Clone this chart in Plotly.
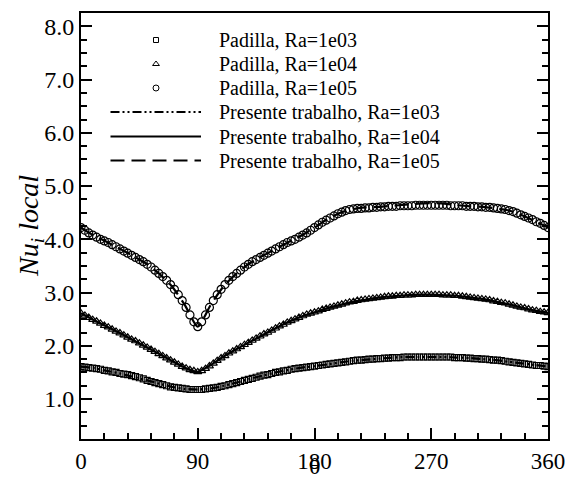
import plotly.graph_objects as go

# ---------------- data ----------------
theta_pts = list(range(0, 361, 3))      # Padilla samples, every 3 degrees
theta_line = list(range(0, 361, 10))    # present work curves, every 10 degrees

padilla_1e03 = [
    1.61, 1.60, 1.59, 1.58, 1.57, 1.56, 1.54, 1.53, 1.51, 1.50, 1.48, 1.47, 1.46, 1.44, 1.42, 1.40,
    1.38, 1.35, 1.33, 1.31, 1.29, 1.27, 1.25, 1.23, 1.22, 1.21, 1.20, 1.19, 1.18, 1.18, 1.18,
    1.18, 1.19, 1.20, 1.21, 1.22, 1.24, 1.25, 1.27, 1.29, 1.31, 1.33, 1.35, 1.37, 1.39, 1.41,
    1.43, 1.45, 1.46, 1.48, 1.50, 1.51, 1.53, 1.54, 1.56, 1.57, 1.58, 1.59, 1.60, 1.61, 1.62,
    1.63, 1.64, 1.65, 1.66, 1.67, 1.68, 1.69, 1.70, 1.71, 1.72, 1.73, 1.73, 1.74, 1.75, 1.75,
    1.76, 1.76, 1.77, 1.77, 1.78, 1.78, 1.78, 1.79, 1.79, 1.79, 1.79, 1.79, 1.79, 1.79, 1.79,
    1.79, 1.79, 1.79, 1.79, 1.79, 1.78, 1.78, 1.78, 1.77, 1.77, 1.76, 1.76, 1.75, 1.75, 1.74,
    1.73, 1.73, 1.72, 1.71, 1.70, 1.69, 1.68, 1.67, 1.66, 1.65, 1.64, 1.63, 1.63, 1.62, 1.61,
]
padilla_1e04 = [
    2.61, 2.57, 2.53, 2.49, 2.46, 2.42, 2.38, 2.35, 2.31, 2.27, 2.24, 2.20, 2.16, 2.12, 2.09, 2.05,
    2.01, 1.97, 1.93, 1.89, 1.85, 1.81, 1.77, 1.73, 1.69, 1.65, 1.61, 1.58, 1.55, 1.53, 1.51,
    1.53, 1.57, 1.62, 1.67, 1.72, 1.77, 1.81, 1.86, 1.90, 1.94, 1.98, 2.02, 2.06, 2.10, 2.14,
    2.18, 2.22, 2.25, 2.29, 2.33, 2.37, 2.40, 2.44, 2.47, 2.50, 2.53, 2.56, 2.59, 2.61, 2.63,
    2.65, 2.68, 2.70, 2.72, 2.74, 2.76, 2.78, 2.80, 2.82, 2.83, 2.85, 2.86, 2.87, 2.88, 2.89,
    2.90, 2.91, 2.92, 2.93, 2.93, 2.94, 2.94, 2.95, 2.95, 2.95, 2.96, 2.96, 2.96, 2.96, 2.96,
    2.96, 2.96, 2.95, 2.95, 2.95, 2.94, 2.94, 2.93, 2.92, 2.91, 2.90, 2.89, 2.88, 2.87, 2.86,
    2.84, 2.83, 2.81, 2.80, 2.78, 2.76, 2.74, 2.72, 2.71, 2.69, 2.67, 2.66, 2.64, 2.63, 2.62,
]
padilla_1e05 = [
    4.22, 4.17, 4.12, 4.08, 4.04, 4.00, 3.97, 3.94, 3.90, 3.86, 3.82, 3.78, 3.74, 3.70, 3.66, 3.62,
    3.58, 3.53, 3.48, 3.42, 3.36, 3.30, 3.23, 3.15, 3.06, 2.96, 2.85, 2.72, 2.58, 2.45, 2.36,
    2.45, 2.58, 2.72, 2.85, 2.96, 3.06, 3.15, 3.23, 3.30, 3.36, 3.42, 3.48, 3.53, 3.58, 3.62,
    3.66, 3.70, 3.74, 3.78, 3.82, 3.86, 3.90, 3.94, 3.97, 4.00, 4.04, 4.08, 4.12, 4.17, 4.22,
    4.27, 4.32, 4.36, 4.40, 4.44, 4.48, 4.51, 4.54, 4.56, 4.57, 4.58, 4.58, 4.59, 4.59, 4.60,
    4.60, 4.61, 4.61, 4.62, 4.62, 4.62, 4.63, 4.63, 4.63, 4.63, 4.64, 4.64, 4.64, 4.64, 4.64,
    4.64, 4.64, 4.64, 4.64, 4.63, 4.63, 4.63, 4.63, 4.62, 4.62, 4.62, 4.61, 4.61, 4.60, 4.60,
    4.59, 4.58, 4.57, 4.56, 4.54, 4.52, 4.49, 4.46, 4.43, 4.40, 4.37, 4.33, 4.30, 4.26, 4.22,
]
present_1e03 = [1.61, 1.58, 1.53, 1.48, 1.42, 1.36, 1.29, 1.23, 1.19, 1.18, 1.20, 1.25, 1.31,
                1.38, 1.44, 1.50, 1.55, 1.59, 1.62, 1.65, 1.69, 1.72, 1.74, 1.76, 1.78, 1.79,
                1.79, 1.79, 1.79, 1.78, 1.77, 1.75, 1.73, 1.70, 1.67, 1.64, 1.61]
present_1e04 = [2.61, 2.48, 2.36, 2.24, 2.11, 1.98, 1.85, 1.72, 1.59, 1.51, 1.64, 1.80, 1.94,
                2.07, 2.20, 2.33, 2.45, 2.55, 2.63, 2.71, 2.77, 2.83, 2.87, 2.91, 2.93, 2.95,
                2.96, 2.96, 2.95, 2.94, 2.91, 2.88, 2.83, 2.78, 2.72, 2.66, 2.62]
present_1e05 = [4.22, 4.07, 3.95, 3.82, 3.69, 3.55, 3.36, 3.12, 2.77, 2.36, 2.77, 3.12, 3.36,
                3.55, 3.69, 3.82, 3.95, 4.07, 4.22, 4.38, 4.50, 4.57, 4.60, 4.61, 4.63, 4.65,
                4.67, 4.68, 4.67, 4.64, 4.62, 4.61, 4.58, 4.54, 4.45, 4.34, 4.22]

x_ticks = [0, 90, 180, 270, 360]
y_ticks = [1, 2, 3, 4, 5, 6, 7, 8]
y_tick_text = ["1.0", "2.0", "3.0", "4.0", "5.0", "6.0", "7.0", "8.0"]

legend_labels = ["Padilla, Ra=1e03", "Padilla, Ra=1e04", "Padilla, Ra=1e05",
                 "Presente trabalho, Ra=1e03", "Presente trabalho, Ra=1e04",
                 "Presente trabalho, Ra=1e05"]

# ---------------- styles ----------------
FONT = "Liberation Serif"
DASHDOTDOT = "9px,3px,2px,3px,2px,3px"
LONGDASH = "14px,7px"
line_styles = [DASHDOTDOT, "solid", LONGDASH]
marker_styles = [("square-open", 6), ("triangle-up-open", 7), ("circle-open", 8)]

fig = go.Figure()

for vals, dash in zip([present_1e03, present_1e04, present_1e05], line_styles):
    fig.add_trace(go.Scatter(x=theta_line, y=vals, mode="lines",
                             line=dict(color="black", width=2.2, dash=dash,
                                       shape="spline", smoothing=0.6),
                             showlegend=False, hoverinfo="skip"))

for vals, (sym, sz) in zip([padilla_1e03, padilla_1e04, padilla_1e05], marker_styles):
    fig.add_trace(go.Scatter(x=theta_pts, y=vals, mode="markers",
                             marker=dict(symbol=sym, size=sz, color="black",
                                         line=dict(width=1.2, color="black")),
                             showlegend=False, hoverinfo="skip"))

W, H = 568, 480
ML, MR, MT, MB = 81, 20, 13, 41
PW, PH = W - ML - MR, H - MT - MB

# ---------------- hand-drawn legend on a pixel-like overlay axis ----------------
LEG_ROWS = [40, 64, 88, 112, 136.5, 160.5]
LEG_SYM_X = 156
LEG_LINE_X = (110.5, 201)
LEG_TEXT_X = 217
legend_marker_sizes = [5, 6, 6]

for i, (sym, _) in enumerate(marker_styles):
    fig.add_trace(go.Scatter(x=[LEG_SYM_X], y=[LEG_ROWS[i]], xaxis="x2", yaxis="y2",
                             mode="markers",
                             marker=dict(symbol=sym, size=legend_marker_sizes[i], color="black",
                                         line=dict(width=1, color="black")),
                             showlegend=False, hoverinfo="skip"))
for i, dash in enumerate(line_styles):
    r = LEG_ROWS[3 + i]
    fig.add_trace(go.Scatter(x=list(LEG_LINE_X), y=[r, r], xaxis="x2", yaxis="y2",
                             mode="lines", line=dict(color="black", width=2.2, dash=dash),
                             showlegend=False, hoverinfo="skip"))
for i, lab in enumerate(legend_labels):
    fig.add_annotation(x=LEG_TEXT_X, y=LEG_ROWS[i], xref="x2", yref="y2", text=lab,
                       showarrow=False, xanchor="left", yanchor="middle",
                       font=dict(family=FONT, size=20, color="black"))

# axis titles as paper annotations (fixed positions, no automargin)
YT_X_PX = 30
fig.add_annotation(x=(YT_X_PX - ML) / PW, y=0.5, xref="paper", yref="paper",
                   text="<i>Nu<sub>i</sub> local</i>", textangle=-90, showarrow=False,
                   xanchor="center", yanchor="middle",
                   font=dict(family=FONT, size=28, color="black"))
XT_Y_PX = 466
fig.add_annotation(x=0.5, y=-(XT_Y_PX - (H - MB)) / PH, xref="paper", yref="paper",
                   text="θ", showarrow=False, xanchor="center", yanchor="middle",
                   borderpad=0,
                   font=dict(family=FONT, size=24, color="black"))

fig.update_layout(
    width=W, height=H,
    margin=dict(l=ML, r=MR, t=MT, b=MB, autoexpand=False),
    paper_bgcolor="white", plot_bgcolor="white",
    font=dict(family=FONT, color="black"),
    showlegend=False,
    xaxis=dict(range=[0, 360], tickvals=x_ticks, ticktext=[str(v) for v in x_ticks],
               ticks="inside", ticklen=11, tickwidth=1.5, tickcolor="black",
               minor=dict(dtick=18, tick0=0, ticks="inside", ticklen=6, tickwidth=1.5,
                          tickcolor="black"),
               showline=True, linecolor="black", linewidth=2, mirror=True,
               showgrid=False, zeroline=False, automargin=False,
               tickfont=dict(family=FONT, size=23, color="black")),
    yaxis=dict(range=[0.25, 8.25], tickvals=y_ticks, ticktext=y_tick_text,
               ticks="inside", ticklen=11, tickwidth=1.5, tickcolor="black",
               minor=dict(dtick=0.25, tick0=0, ticks="inside", ticklen=6, tickwidth=1.5,
                          tickcolor="black"),
               showline=True, linecolor="black", linewidth=2, mirror="ticks",
               showgrid=False, zeroline=False, automargin=False,
               tickfont=dict(family=FONT, size=24, color="black")),
    xaxis2=dict(overlaying="x", range=[ML, W - MR], visible=False, fixedrange=True,
                automargin=False),
    yaxis2=dict(overlaying="y", range=[H - MB, MT], visible=False, fixedrange=True,
                automargin=False),
)

fig.write_html("out.html")
